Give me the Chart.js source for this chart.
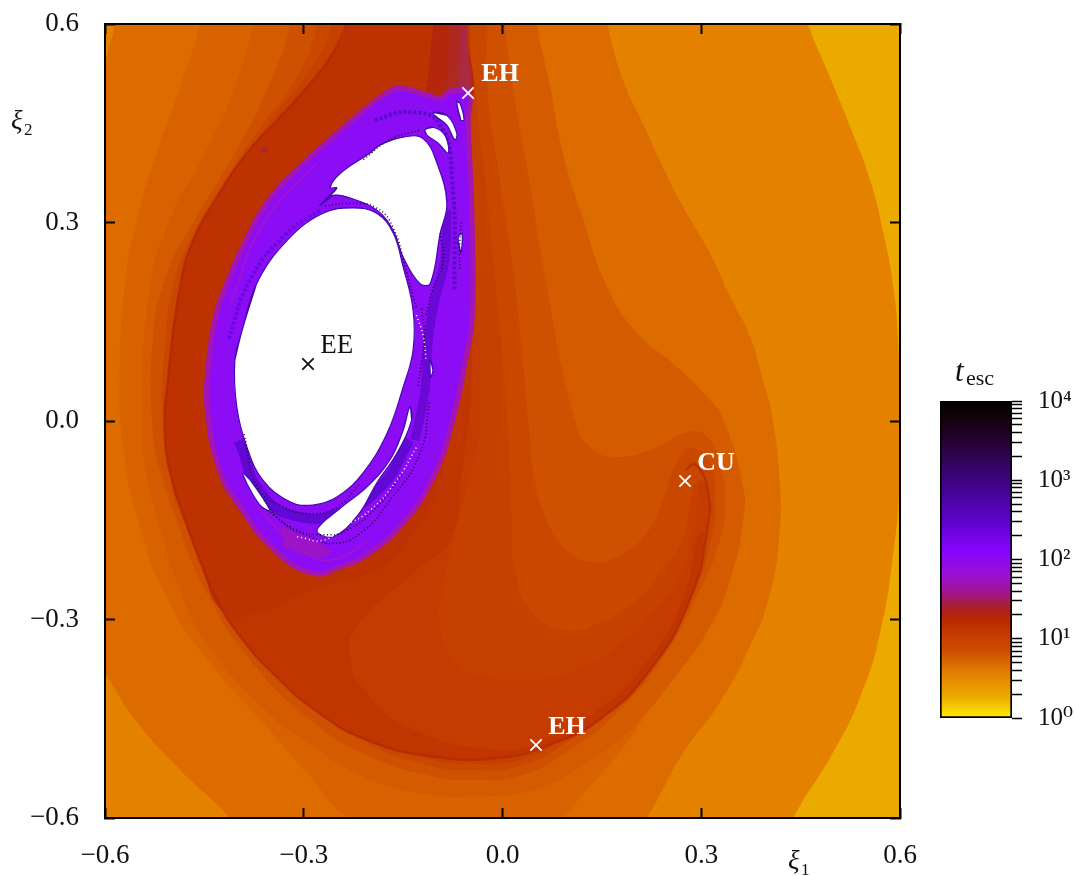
<!DOCTYPE html>
<html>
<head>
<meta charset="utf-8">
<title>t_esc map</title>
<script src="https://cdn.jsdelivr.net/npm/chart.js@4"></script>
<style>
html,body{margin:0;padding:0;background:#fff;overflow:hidden}
#map{position:absolute;left:0;top:0}
#bar{position:absolute;left:930px;top:380px}
</style>
</head>
<body>
<canvas id="map" width="1075" height="876"></canvas>
<canvas id="bar" width="145" height="360"></canvas>
<script>
// axis ticks
const tickValues = [-0.6,-0.3,0,0.3,0.6];
const cbTicks = [1,2,3,4,5,6,7,8,9,10,20,30,40,50,60,70,80,90,100,200,300,400,500,600,700,800,900,1000,2000,3000,4000,5000,6000,7000,8000,9000,10000];
const cbStopLogs = [0,0.15,0.27,0.55,0.86,1.0,1.25,1.4,1.6,1.8,2.1,2.5,3.0,3.4,3.8,4];
const cbStopColors = ['#ffee00','#f5c800','#eca900','#e48200','#cc4c00','#c84000','#b82800','#a8202c','#a01498','#9a10d0','#8a04ff','#5a04c8','#3e0480','#2a0440','#120208','#000000'];

// escape time level regions, outermost first, [xi1, xi2]
const yellowRegion = [[-.7,.7],[.7,.7],[.7,-.7],[-.7,-.7]];
const levelA = [[-.7,.7],[.43,.7],[.461,.6],[.49,.53],[.525,.444],[.555,.364],[.575,.284],[.59,.202],[.597,.122],[.6,.017],[.599,-.1],[.59,-.199],[.57,-.32],[.54,-.417],[.499,-.501],[.439,-.6],[.41,-.67],[-.7,-.7]];
const levelB = [[-.62,.44],[-.6,.541],[-.585,.6],[-.575,.68],[.14,.68],[.158,.6],[.182,.515],[.212,.45],[.242,.384],[.273,.323],[.313,.254],[.344,.187],[.374,.127],[.393,.062],[.408,.002],[.419,-.1],[.419,-.16],[.404,-.26],[.369,-.35],[.324,-.432],[.273,-.501],[.218,-.6],[.17,-.67],[-.35,-.68],[-.411,-.6],[-.487,-.527],[-.558,-.447],[-.6,-.381],[-.65,-.31]];
const levelC = [[-.445,.68],[-.457,.6],[-.487,.504],[-.522,.405],[-.552,.304],[-.57,.202],[-.578,.062],[-.572,-.044],[-.55,-.15],[-.507,-.266],[-.442,-.365],[-.356,-.462],[-.295,-.532],[-.23,-.6],[-.109,-.648],[.042,-.625],[.147,-.535],[.238,-.414],[.313,-.311],[.348,-.225],[.363,-.15],[.363,-.1],[.333,.002],[.309,.036],[.263,.082],[.203,.133],[.158,.202],[.122,.304],[.091,.405],[.072,.504],[.052,.6],[.045,.68]];
const levelD = [[-.37,.68],[-.377,.6],[-.404,.504],[-.449,.405],[-.502,.304],[-.532,.202],[-.544,0],[-.538,-.074],[-.52,-.15],[-.487,-.255],[-.449,-.331],[-.374,-.421],[-.291,-.489],[-.2,-.542],[-.109,-.565],[-.054,-.568],[.046,-.557],[.128,-.516],[.197,-.462],[.257,-.391],[.313,-.311],[.348,-.225],[.363,-.15],[.363,-.1],[.333,.002],[.309,.036],[.263,.082],[.203,.133],[.158,.202],[.122,.304],[.091,.405],[.072,.504],[.052,.6],[.045,.68]];
const levelE = [[-.315,.68],[-.321,.6],[-.354,.504],[-.404,.405],[-.464,.304],[-.51,.213],[-.529,.107],[-.529,0],[-.517,-.074],[-.492,-.15],[-.449,-.255],[-.381,-.361],[-.291,-.451],[-.2,-.507],[-.109,-.536],[-.054,-.542],[.026,-.536],[.102,-.497],[.177,-.436],[.245,-.353],[.298,-.255],[.328,-.18],[.336,-.119],[.331,-.074],[.309,-.024],[.279,-.017],[.223,-.044],[.167,-.054],[.132,-.039],[.109,.002],[.067,.202],[.042,.353],[.016,.504],[.004,.6],[.002,.68]];
const levelF = [[-.27,.68],[-.28,.6],[-.313,.515],[-.363,.447],[-.419,.364],[-.464,.288],[-.495,.213],[-.51,.107],[-.513,0],[-.502,-.089],[-.482,-.15],[-.437,-.255],[-.374,-.346],[-.291,-.429],[-.2,-.489],[-.109,-.521],[-.054,-.527],[.026,-.521],[.102,-.482],[.177,-.421],[.238,-.346],[.291,-.255],[.316,-.172],[.321,-.127],[.313,-.063],[.283,-.041],[.263,-.063],[.242,-.119],[.218,-.169],[.173,-.205],[.132,-.213],[.097,-.195],[.067,-.15],[.046,-.074],[.039,.002],[.019,.202],[-.004,.364],[-.023,.504],[-.023,.6],[-.024,.68]];
const levelG = [[-.25,.68],[-.257,.6],[-.291,.53],[-.344,.462],[-.396,.387],[-.449,.304],[-.484,.213],[-.502,.107],[-.507,0],[-.496,-.089],[-.478,-.15],[-.433,-.248],[-.369,-.338],[-.286,-.421],[-.197,-.479],[-.106,-.512],[-.054,-.518],[.026,-.512],[.099,-.474],[.174,-.414],[.233,-.338],[.283,-.248],[.306,-.165],[.309,-.127],[.298,-.089],[.288,-.1],[.283,-.124],[.273,-.175],[.242,-.225],[.197,-.275],[.147,-.305],[.097,-.316],[.046,-.29],[.019,-.225],[.014,-.15],[.007,.002],[-.008,.183],[-.026,.364],[-.042,.504],[-.049,.6],[-.05,.68]];
const levelH = [[-.225,.68],[-.235,.6],[-.256,.556],[-.286,.515],[-.336,.459],[-.386,.405],[-.431,.338],[-.467,.273],[-.487,.202],[-.505,.062],[-.51,-.014],[-.499,-.089],[-.479,-.15],[-.457,-.21],[-.431,-.271],[-.392,-.331],[-.344,-.384],[-.283,-.437],[-.205,-.482],[-.105,-.507],[-.004,-.509],[.072,-.489],[.147,-.451],[.223,-.376],[.283,-.27],[.309,-.165],[.31,-.104],[.3,-.09],[.295,-.11],[.29,-.16],[.268,-.233],[.223,-.296],[.173,-.341],[.112,-.376],[.046,-.391],[-.019,-.387],[-.069,-.365],[-.094,-.311],[-.09,-.251],[-.054,-.1],[-.034,.002],[-.045,.304],[-.049,.6],[-.05,.68]];
const levelI = [[-.225,.68],[-.235,.6],[-.256,.556],[-.286,.515],[-.336,.459],[-.386,.405],[-.431,.338],[-.467,.273],[-.487,.202],[-.505,.062],[-.51,-.014],[-.499,-.089],[-.479,-.15],[-.457,-.21],[-.431,-.271],[-.392,-.331],[-.344,-.384],[-.283,-.437],[-.205,-.482],[-.105,-.507],[-.004,-.509],[.072,-.489],[.147,-.451],[.223,-.376],[.283,-.27],[.305,-.17],[.296,-.17],[.272,-.27],[.213,-.37],[.14,-.44],[.07,-.478],[-.004,-.497],[-.144,-.462],[-.205,-.411],[-.23,-.361],[-.22,-.311],[-.129,-.225],[-.079,-.18],[-.061,-.074],[-.049,.032],[-.046,.183],[-.049,.334],[-.052,.6],[-.052,.68]];
const levelJ = [[-.225,.68],[-.235,.6],[-.256,.556],[-.286,.515],[-.336,.459],[-.386,.405],[-.431,.338],[-.467,.273],[-.487,.202],[-.505,.062],[-.51,-.014],[-.499,-.089],[-.479,-.15],[-.457,-.21],[-.42,-.29],[-.37,-.29],[-.3,-.26],[-.155,-.195],[-.079,.002],[-.057,.576],[-.055,.68]];
const plumeOuter = [[-.1,.68],[-.104,.6],[-.11,.54],[-.108,.47],[-.05,.47],[-.054,.6],[-.052,.68]];
const plumeMiddle = [[-.08,.68],[-.08,.6],[-.082,.54],[-.082,.47],[-.05,.47],[-.054,.6],[-.052,.68]];
const plumeInner = [[-.062,.68],[-.063,.6],[-.065,.54],[-.065,.47],[-.05,.47],[-.054,.6],[-.052,.68]];
const smudge = [[-.359,.41]];

// sticky layer around the island
const stickyBlob = [[-.052,.496],[-.075,.5],[-.094,.488],[-.114,.493],[-.155,.503],[-.174,.496],[-.205,.473],[-.256,.429],[-.306,.384],[-.356,.329],[-.392,.263],[-.416,.208],[-.434,.153],[-.445,.072],[-.446,.021],[-.427,-.074],[-.396,-.13],[-.344,-.195],[-.286,-.23],[-.245,-.22],[-.2,-.199],[-.15,-.154],[-.105,-.085],[-.075,.002],[-.054,.103],[-.046,.153],[-.046,.304],[-.052,.455]];
const magentaPatch = [[-.336,-.157],[-.261,-.195],[-.276,-.207],[-.329,-.192]];
const streakLower = [[-.37,-.13],[-.31,-.19],[-.26,-.21],[-.2,-.18]];
const streakUpper = [[-.41,.18],[-.36,.3],[-.28,.39]];
const bandLower = [[-.398,-.03],[-.362,-.112],[-.306,-.145],[-.245,-.138],[-.185,-.101],[-.14,-.029]];
const bandRight = [[-.084,.319],[-.087,.243],[-.102,.183],[-.112,.122],[-.117,.047],[-.132,-.029]];
const bandUpper = [[-.276,.319],[-.328,.281],[-.381,.213],[-.414,.122]];
const bandTop = [[-.193,.455],[-.14,.467],[-.094,.447],[-.076,.364],[-.072,.198]];

// never escaping islands
const mainIsland = [[-.393,.137],[-.371,.208],[-.325,.273],[-.271,.314],[-.226,.322],[-.19,.314],[-.165,.284],[-.15,.233],[-.135,.168],[-.135,.107],[-.15,.051],[-.174,-.018],[-.211,-.079],[-.25,-.115],[-.286,-.127],[-.321,-.122],[-.362,-.089],[-.386,-.039],[-.401,.021],[-.404,.092]];
const upperIsland = [[-.276,.326],[-.256,.341],[-.23,.337],[-.19,.319],[-.165,.288],[-.15,.248],[-.125,.208],[-.109,.208],[-.094,.284],[-.084,.329],[-.099,.39],[-.12,.427],[-.15,.429],[-.185,.417],[-.2,.405],[-.245,.374],[-.26,.353],[-.25,.352]];
const smallIslandA = [[-.117,.44],[-.105,.444],[-.087,.432],[-.082,.405],[-.097,.42],[-.114,.432]];
const smallIslandB = [[-.105,.465],[-.084,.462],[-.069,.435],[-.072,.425],[-.084,.447]];
const smallIslandC = [[-.069,.482],[-.064,.48],[-.058,.455],[-.063,.455]];
const smallIslandD = [[-.067,.278],[-.061,.284],[-.063,.254]];
const lowerIsland = [[-.14,.021],[-.137,.002],[-.159,-.048],[-.19,-.094],[-.218,-.142],[-.256,-.175],[-.28,-.165],[-.245,-.132],[-.205,-.1],[-.17,-.059],[-.15,-.014]];
const smallIslandE = [[-.109,.092],[-.105,.077],[-.109,.066]];
const leftIsland = [[-.392,-.079],[-.381,-.089],[-.351,-.135],[-.366,-.127],[-.386,-.094]];

// dotted escape traces
const speckA = [[-.268,.325],[-.226,.329],[-.19,.322],[-.165,.292],[-.147,.233],[-.13,.17]];
const speckB = [[-.094,.284],[-.09,.24],[-.105,.2],[-.115,.16]];
const speckC = [[-.39,-.02],[-.37,-.1],[-.33,-.13],[-.29,-.14],[-.25,-.13],[-.215,-.095]];
const speckD = [[-.36,-.12],[-.33,-.155],[-.29,-.175],[-.255,-.185],[-.215,-.17],[-.17,-.12],[-.125,-.05],[-.11,.03]];
const speckE = [[-.355,-.135],[-.31,-.165],[-.27,-.172],[-.235,-.165],[-.19,-.13],[-.15,-.08]];
const speckF = [[-.122,.17],[-.118,.13],[-.122,.09],[-.128,.05]];
const speckG = [[-.21,.395],[-.17,.425],[-.125,.44]];
const speckH = [[-.062,.3],[-.065,.26],[-.064,.23]];
const speckWhiteA = [[-.31,-.175],[-.27,-.18],[-.24,-.16],[-.2,-.135],[-.16,-.09],[-.13,-.04]];
const speckWhiteB = [[-.13,.16],[-.12,.13],[-.115,.09]];

const ridgeLine = [[-.235,.6],[-.256,.556],[-.286,.515],[-.336,.459],[-.386,.405],[-.431,.338],[-.467,.273],[-.487,.202],[-.505,.062],[-.51,-.014],[-.499,-.089],[-.479,-.15],[-.457,-.21],[-.431,-.271],[-.392,-.331],[-.344,-.384],[-.283,-.437],[-.205,-.482],[-.105,-.507],[-.004,-.509],[.072,-.489],[.147,-.451],[.223,-.376],[.283,-.27],[.309,-.165],[.31,-.104],[.291,-.066],[.276,-.074]];

// fixed points
const pointEE = [[-.2936,.0861]];
const pointsWhite = [[-.052,.4957],[.2755,-.0907],[.0506,-.4897]];
const pointLabels = ['EE','EH','CU','EH'];
const labelXs = [-.275,-.032,.294,.069];
const labelYs = [.103,.514,-.074,-.473];

const fills = [
  [yellowRegion,'#eca900'],[levelA,'#e48200'],[levelB,'#dc6b00'],[levelC,'#d96200'],[levelD,'#d55b00'],
  [levelE,'#cf5000'],[levelF,'#ca4700'],[levelG,'#c64000'],[levelH,'#c53c00'],[levelI,'#c13600'],[levelJ,'#be3100'],
  [plumeOuter,'#b5270c'],[plumeMiddle,'#b02822'],[plumeInner,'#aa2a44']
];
const strokes = [
  [streakLower,'#a316c8',1.5,[]],[streakUpper,'#a316c8',1.5,[]],
  [bandLower,'#6208d4',10,[]],[bandRight,'#6a08d8',9,[]],[bandUpper,'#6a08e0',4,[3,2]],[bandTop,'#5a0cc8',4,[3,2]]
];
const islands = [mainIsland,upperIsland,smallIslandA,smallIslandB,smallIslandC,smallIslandD,lowerIsland,smallIslandE,leftIsland];
const specks = [speckA,speckB,speckC,speckD,speckE,speckF,speckG,speckH];
const whiteSpecks = [speckWhiteA,speckWhiteB];

// repeat the ends so the spline closes smoothly
const closeLoop = d=>[d[d.length-1],...d,d[0],d[1]];

const SERIF = "'Liberation Serif','DejaVu Serif',serif";
const datasets = [];
fills.forEach(f=>datasets.push({data:f[0],showLine:true,fill:'shape',backgroundColor:f[1],borderWidth:0,pointRadius:0,tension:.5,capBezierPoints:false}));
datasets.push({data:ridgeLine,showLine:true,fill:false,borderColor:'rgba(172,37,8,.55)',borderWidth:2.5,pointRadius:0,tension:.5});
datasets.push({data:smudge,pointRadius:3,pointBorderWidth:0,pointBackgroundColor:'#a62a30'});
datasets.push({data:closeLoop(stickyBlob),showLine:true,fill:'shape',backgroundColor:'#8c0cf5',borderColor:'#a316b4',borderWidth:5,pointRadius:0,tension:.5});
datasets.push({data:magentaPatch,showLine:true,fill:'shape',backgroundColor:'#9c14c8',borderWidth:0,pointRadius:0,tension:.5});
strokes.forEach(s=>datasets.push({data:s[0],showLine:true,fill:false,borderColor:s[1],borderWidth:s[2],borderDash:s[3],pointRadius:0,tension:.5}));
islands.forEach(d=>datasets.push({data:closeLoop(d),showLine:true,fill:'shape',backgroundColor:'#fff',borderColor:'#4508b0',borderWidth:1.2,pointRadius:0,tension:.4}));
specks.forEach(d=>datasets.push({data:d,showLine:true,fill:false,borderColor:'#1a0630',borderWidth:1.5,borderDash:[1,2.5],pointRadius:0,tension:.5}));
whiteSpecks.forEach(d=>datasets.push({data:d,showLine:true,fill:false,borderColor:'#fff',borderWidth:1.5,borderDash:[1,3],pointRadius:0,tension:.5}));
datasets.push({data:pointEE,pointStyle:'crossRot',pointRadius:8,pointBorderWidth:1.8,pointBorderColor:'#111'});
datasets.push({data:pointsWhite,pointStyle:'crossRot',pointRadius:8,pointBorderWidth:1.8,pointBorderColor:'#fff'});
datasets.forEach((d,i)=>{d.order = datasets.length-i;});

// tick padding feeds the layout, so clear it or the plot area shrinks
function clearPadding(s){
  s.paddingTop = 0; s.paddingBottom = 0; s.paddingLeft = 0; s.paddingRight = 0;
}
function axisOpts(position,showLabels,key,size){
  return {
    type:'linear',position,min:-.6,max:.6,
    afterBuildTicks:a=>{a.ticks = tickValues.map(v=>({value:v}));},
    afterFit:s=>{s[key] = size; clearPadding(s);},
    grid:{drawOnChartArea:false,drawTicks:true,tickLength:-10,tickColor:'#000',tickWidth:2,z:1},
    border:{display:true,color:'#000',width:2,z:1},
    ticks:{display:showLabels,z:1,color:'#111',autoSkip:false,maxRotation:0,padding:36,
      font:{family:SERIF,size:27},
      callback:v=>v.toFixed(1).replace('-','\u2212')}
  };
}
const axisX = axisOpts('bottom',true,'height',58);
axisX.ticks.padding = 32;
const axisY = axisOpts('left',true,'width',105);
const axisX2 = axisOpts('top',false,'height',24);
axisX2.axis = 'x';
const axisY2 = axisOpts('right',false,'width',175);
axisY2.axis = 'y';

const textPlugin = {
  id:'mapText',
  afterDraw(chart){
    const c = chart.ctx, sx = chart.scales.x, sy = chart.scales.y;
    c.save();
    c.textBaseline = 'alphabetic';
    c.textAlign = 'left';
    pointLabels.forEach((t,i)=>{
      c.font = i===0 ? '27px '+SERIF : 'bold 26px '+SERIF;
      c.fillStyle = i===0 ? '#111' : '#fff';
      c.fillText(t,sx.getPixelForValue(labelXs[i]),sy.getPixelForValue(labelYs[i]));
    });
    c.fillStyle = '#111';
    c.font = 'italic 27px '+SERIF;
    c.fillText('\u03be',788,869);
    c.fillText('\u03be',11,129);
    c.font = '17px '+SERIF;
    c.fillText('1',801,875);
    c.fillText('2',24,135);
    c.font = 'italic 31px '+SERIF;
    c.fillText('t',955,381);
    c.font = '22px '+SERIF;
    c.fillText('esc',966,385);
    c.restore();
  }
};

new Chart(document.getElementById('map'),{
  type:'scatter',
  data:{datasets},
  options:{
    responsive:false,animation:false,
    layout:{padding:0},
    plugins:{legend:{display:false},tooltip:{enabled:false}},
    scales:{x:axisX,y:axisY,x2:axisX2,y2:axisY2}
  },
  plugins:[textPlugin]
});

const SUPS = ['\u2070','\u00b9','\u00b2','\u00b3','\u2074'];
new Chart(document.getElementById('bar'),{
  type:'bar',
  data:{
    labels:['t'],
    datasets:[{
      data:[[1,10000]],
      barPercentage:1,categoryPercentage:1,
      borderColor:'#000',borderWidth:2,borderSkipped:false,
      backgroundColor(ctx){
        const area = ctx.chart.chartArea;
        if(!area) return '#000';
        const g = ctx.chart.ctx.createLinearGradient(0,area.bottom,0,area.top);
        cbStopLogs.forEach((l,i)=>g.addColorStop(l/4,cbStopColors[i]));
        return g;
      }
    }]
  },
  options:{
    responsive:false,animation:false,
    layout:{padding:{left:10,top:21,bottom:22,right:0}},
    plugins:{legend:{display:false},tooltip:{enabled:false}},
    scales:{
      x:{display:false},
      y:{
        type:'logarithmic',position:'right',min:1,max:10000,
        afterFit:s=>{s.width = 63; clearPadding(s);},
        afterBuildTicks:a=>{a.ticks = cbTicks.map(v=>({value:v}));},
        grid:{drawOnChartArea:false,tickLength:10,tickColor:'#000',tickWidth:1.5},
        border:{display:false},
        ticks:{autoSkip:false,maxRotation:0,padding:16,color:'#111',font:{family:SERIF,size:25},
          callback:v=>{
            const e = Math.log10(v);
            return Number.isInteger(Math.round(e*1e6)/1e6) ? '10'+SUPS[Math.round(e)] : '';
          }}
      }
    }
  }
});
</script>
</body>
</html>
